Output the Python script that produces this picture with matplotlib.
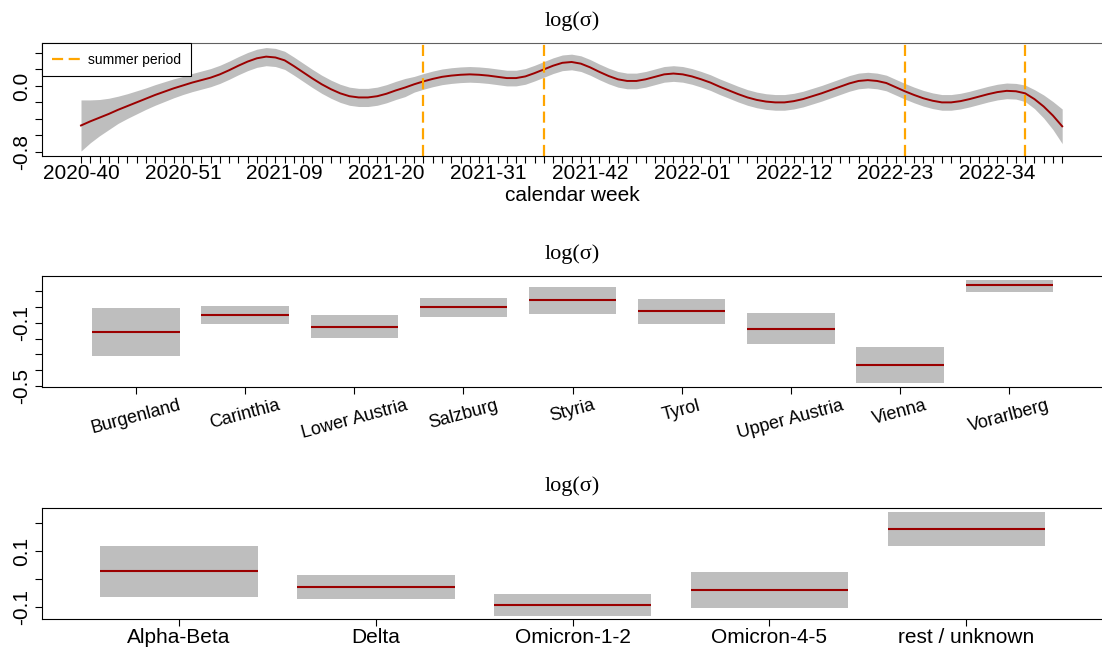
import numpy as np
import matplotlib
matplotlib.use("Agg")
import matplotlib.pyplot as plt
from matplotlib.lines import Line2D

plt.rcParams['font.family'] = ['Liberation Sans', 'DejaVu Sans']

# smooth calendar-week effect, one value per week starting at 2020-40
week_est = [-0.48, -0.43, -0.385, -0.34, -0.29, -0.245, -0.20, -0.155, -0.11, -0.07,
            -0.03, 0.005, 0.04, 0.07, 0.10, 0.14, 0.19, 0.245, 0.295, 0.335,
            0.355, 0.345, 0.31, 0.24, 0.165, 0.09, 0.02, -0.04, -0.09, -0.125,
            -0.14, -0.14, -0.125, -0.095, -0.055, -0.02, 0.02, 0.055, 0.085, 0.11,
            0.125, 0.135, 0.14, 0.135, 0.125, 0.11, 0.095, 0.095, 0.115, 0.155,
            0.20, 0.245, 0.28, 0.29, 0.27, 0.225, 0.17, 0.12, 0.08, 0.06,
            0.06, 0.08, 0.11, 0.14, 0.15, 0.14, 0.115, 0.08, 0.04, -0.01,
            -0.055, -0.10, -0.14, -0.17, -0.19, -0.20, -0.20, -0.185, -0.16, -0.125,
            -0.09, -0.05, -0.01, 0.03, 0.06, 0.07, 0.06, 0.035, -0.015, -0.065,
            -0.11, -0.15, -0.18, -0.20, -0.20, -0.185, -0.16, -0.13, -0.10, -0.075,
            -0.06, -0.065, -0.09, -0.16, -0.25, -0.36, -0.49]
# half width of the confidence band
week_hw = ([0.31, 0.26, 0.22, 0.19, 0.165, 0.15, 0.14, 0.13, 0.125, 0.12, 0.115]
           + [0.11] * 25
           + [0.095] * 65
           + [0.095, 0.10, 0.115, 0.14, 0.17, 0.21])
week_ticks = ["2020-40", "2020-51", "2021-09", "2021-20", "2021-31",
              "2021-42", "2022-01", "2022-12", "2022-23", "2022-34"]
summer_weeks = ["2021-24", "2021-37", "2022-24", "2022-37"]
weeks_per_year = {2020: 53, 2021: 52, 2022: 52}

# federal states
states = ["Burgenland", "Carinthia", "Lower Austria", "Salzburg", "Styria",
          "Tyrol", "Upper Austria", "Vienna", "Vorarlberg"]
state_est = [-0.157, -0.050, -0.125, -0.003, 0.041, -0.028, -0.140, -0.369, 0.136]
state_lo = [-0.308, -0.106, -0.195, -0.062, -0.043, -0.106, -0.236, -0.482, 0.096]
state_hi = [-0.007, 0.007, -0.053, 0.054, 0.127, 0.050, -0.041, -0.253, 0.171]

# variants
variants = ["Alpha-Beta", "Delta", "Omicron-1-2", "Omicron-4-5", "rest / unknown"]
var_est = [0.027, -0.028, -0.093, -0.040, 0.179]
var_lo = [-0.064, -0.071, -0.132, -0.106, 0.117]
var_hi = [0.118, 0.014, -0.053, 0.025, 0.240]

band_col = "#bebebe"
line_col = "#9b0000"
title_font = dict(family="Liberation Serif", fontsize=16)


def week_index(label):
    yr, wk = map(int, label.split("-"))
    idx = wk - 40
    for y in range(2020, yr):
        idx += weeks_per_year[y]
    return idx


def style_axis(ax):
    ax.spines['right'].set_visible(False)
    for s in ['left', 'top', 'bottom']:
        ax.spines[s].set_linewidth(0.8)
    ax.tick_params(direction='out', length=5, width=0.8, labelsize=15)
    ax.tick_params(axis='y', pad=3)
    for lab in ax.get_yticklabels():
        lab.set_rotation(90)
        lab.set_va('center')


fig = plt.figure(figsize=(11.02, 6.51), dpi=100)

# --- calendar week ---
ax1 = fig.add_axes([0.0384, 0.7604, 0.9616, 0.1735])
x = np.arange(len(week_est))
est = np.array(week_est)
hw = np.array(week_hw)
ax1.fill_between(x, est - hw, est + hw, color=band_col, lw=0)
ax1.plot(x, est, color=line_col, lw=1.4)
for w in summer_weeks:
    ax1.axvline(week_index(w), color="orange", lw=1.6, dashes=(5, 2.5))
ax1.set_xticks([week_index(w) for w in week_ticks], week_ticks)
ax1.set_xticks(x, minor=True)
ax1.tick_params(axis='x', which='both', direction='out', length=5, width=0.8, pad=1)
ax1.set_xlim(-4.18, 110.3)
ax1.set_ylim(-0.85, 0.52)
ax1.set_yticks([-0.8, -0.6, -0.4, -0.2, 0.0, 0.2, 0.4],
               ["-0.8", "", "", "", "0.0", "", ""])
ax1.set_xlabel("calendar week", fontsize=15, labelpad=2)
ax1.set_title("log(σ)", pad=12, **title_font)
style_axis(ax1)
ax1.spines['top'].set_color("#606060")
handle = Line2D([], [], color="orange", lw=1.6, dashes=(5, 2.5))
leg = ax1.legend([handle], ["summer period"], loc="upper left", bbox_to_anchor=(0, 1),
                 borderaxespad=0, fancybox=False, edgecolor="black", framealpha=1,
                 fontsize=10, handlelength=2.0, handletextpad=0.6, borderpad=0.7)
leg.get_frame().set_linewidth(0.8)

# --- federal states ---
ax2 = fig.add_axes([0.0384, 0.4051, 0.9616, 0.1714])
pos = np.arange(1, len(states) + 1)
lo = np.array(state_lo)
hi = np.array(state_hi)
ax2.bar(pos, hi - lo, bottom=lo, width=0.8, color=band_col, lw=0)
ax2.hlines(state_est, pos - 0.4, pos + 0.4, color=line_col, lw=1.5)
ax2.set_xlim(0.143, 9.85)
ax2.set_ylim(-0.508, 0.197)
ax2.set_xticks(pos)
ax2.set_xticklabels(states, rotation=15, ha='center', fontsize=13)
ax2.set_yticks([-0.5, -0.4, -0.3, -0.2, -0.1, 0.0, 0.1],
               ["-0.5", "", "", "", "-0.1", "", ""])
ax2.set_title("log(σ)", pad=12, **title_font)
style_axis(ax2)
ax2.tick_params(axis='x', labelsize=13, pad=2)

# --- variants ---
ax3 = fig.add_axes([0.0384, 0.0496, 0.9616, 0.1708])
pos = np.arange(1, len(variants) + 1)
lo = np.array(var_lo)
hi = np.array(var_hi)
ax3.bar(pos, hi - lo, bottom=lo, width=0.8, color=band_col, lw=0)
ax3.hlines(var_est, pos - 0.4, pos + 0.4, color=line_col, lw=1.5)
ax3.set_xlim(0.305, 5.69)
ax3.set_ylim(-0.143, 0.256)
ax3.set_xticks(pos, variants)
ax3.set_yticks([-0.1, 0.0, 0.1, 0.2], ["-0.1", "", "0.1", ""])
ax3.set_title("log(σ)", pad=12, **title_font)
style_axis(ax3)
ax3.tick_params(axis='x', pad=2)

fig.savefig("out.png", dpi=100)
